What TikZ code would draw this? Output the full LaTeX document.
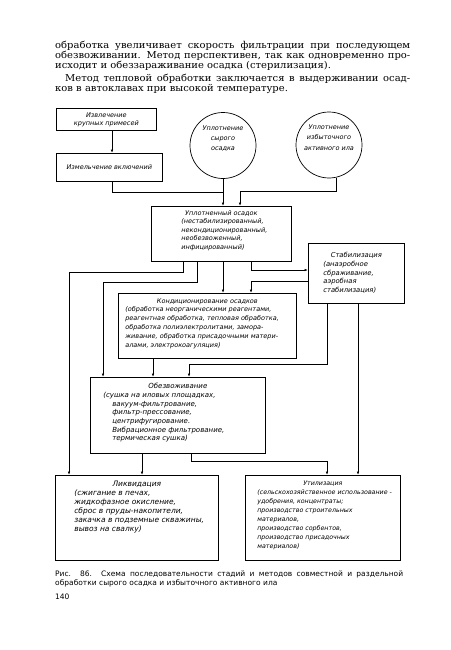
\documentclass[tikz,border=0pt]{standalone}
\usepackage{fontspec}
\setmainfont{DejaVu Serif}[FakeStretch=1.05]
\newfontfamily\handfont{DejaVu Sans}
\newfontfamily\capfont{DejaVu Sans}
\usetikzlibrary{arrows.meta}

\newlength{\du}
\setlength{\du}{1pt}

% frame text: width, height, top gap, left gap, text
\newcommand{\blocktext}[5]{\parbox[c][#2][t]{#1}{\vspace*{#3}\raggedright\leftskip=#4\relax #5}}

\tikzset{
  hand/.style n args={2}{font=\handfont\itshape\fontsize{#1}{#2}\selectfont},
  blok/.style={draw, line width=0.7\du, inner sep=0pt, anchor=north west},
  krug/.style={draw, circle, line width=0.7\du, minimum size=66\du, inner sep=0pt, align=center, text depth=15\du, hand={6.5}{10.3}},
  flow/.style={line width=0.7\du, -{Latex[length=3.5pt,width=2.6pt]}},
  plainline/.style={line width=0.7\du}
}

\begin{document}
\begin{tikzpicture}
\pgftransformxscale{1.000000}
\pgftransformyscale{-1.000000}
\useasboundingbox (0\du,0\du) rectangle (450\du,650\du);
% text of the page
\node[anchor=north west, inner sep=0pt, text width=355\du, align=justify, font=\fontsize{9.5}{10.2}\selectfont] (para) at (55\du,41\du) {обработка увеличивает скорость фильтрации при последующем\linebreak обезвоживании. Метод перспективен, так как одновременно про-\linebreak исходит и обеззараживание осадка (стерилизация).\par\vspace{2.5\du}\hspace*{10\du}Метод тепловой обработки заключается в выдерживании осад-\linebreak ков в автоклавах при высокой температуре.};
% top row
\node[blok, minimum width=100\du, minimum height=22\du, align=center, hand={6.5}{8}] (izvl) at (56\du,108\du) {Извлечение\\крупных примесей};
\node[blok, minimum width=106\du, minimum height=28\du, hand={6.5}{8}] (izm) at (56\du,153\du) {Измельчение включений};
\node[krug] (upl1) at (223\du,145.5\du) {Уплотнение\\сырого\\осадка};
\node[krug] (upl2) at (329\du,145\du) {Уплотнение\\избыточного\\активного ила};
% stages
\node[blok, hand={6.5}{8.5}] (uplos) at (151\du,206\du) {\blocktext{140\du}{55\du}{4\du}{30\du}{\centerline{Уплотненный осадок}(нестабилизированный,\\некондиционированный,\\необезвоженный,\\инфицированный)}};
\node[blok, hand={6.8}{8.7}] (stab) at (308\du,243\du) {\blocktext{96\du}{60\du}{9\du}{15\du}{\centerline{Стабилизация}(анаэробное\\сбраживание,\\аэробная\\стабилизация)}};
\node[blok, hand={6.5}{8.8}] (kond) at (118\du,293\du) {\blocktext{178\du}{65\du}{5\du}{7\du}{\centerline{Кондиционирование осадков}(обработка неорганическими реагентами,\\реагентная обработка, тепловая обработка,\\обработка полиэлектролитами, замора-\\живание, обработка присадочными матери-\\алами, электрокоагуляция)}};
\node[blok, hand={7}{8.7}] (obez) at (90\du,377\du) {\blocktext{175\du}{76\du}{6\du}{22\du}{\centerline{Обезвоживание}\hspace*{-9\du}(сушка на иловых площадках,\\вакуум-фильтрование,\\фильтр-прессование,\\центрифугирование.\\Вибрационное фильтрование,\\термическая сушка)}};
\node[blok, hand={7.5}{9}] (likv) at (55\du,475\du) {\blocktext{163\du}{85\du}{6\du}{19\du}{\centerline{Ликвидация}(сжигание в печах,\\жидкофазное окисление,\\сброс в пруды-накопители,\\закачка в подземные скважины,\\вывоз на свалку)}};
\node[blok, hand={6.3}{8.9}] (util) at (245\du,475\du) {\blocktext{155\du}{85\du}{6\du}{12\du}{\centerline{Утилизация}\mbox{(сельскохозяйственное использование -}\\удобрения, концентраты;\\производство строительных\\материалов,\\производство сорбентов,\\производство присадочных\\материалов)}};
% caption
\node[anchor=north west, inner sep=0pt, text width=348\du, align=justify, font=\capfont\fontsize{7.5}{9}\selectfont] (podpis) at (55\du,571\du) {Рис. 86. Схема последовательности стадий и методов совместной и раздельной\linebreak обработки сырого осадка и избыточного активного ила};
\node[anchor=west, inner sep=0pt, font=\capfont\fontsize{7.5}{9}\selectfont] (stran) at (55\du,597\du) {140};
% junction points
\coordinate (a1) at (112\du,192\du);
\coordinate (a2) at (240\du,191\du);
\coordinate (a3) at (251\du,270\du);
\coordinate (a4) at (251\du,281\du);
\coordinate (a5) at (183\du,272\du);
\coordinate (a6) at (69\du,272\du);
\coordinate (a7) at (197\du,282\du);
\coordinate (a8) at (103\du,282\du);
\coordinate (a9) at (153\du,368\du);
\coordinate (a10) at (327\du,364\du);
\coordinate (a11) at (189\du,364\du);
\coordinate (a12) at (358\du,400\du);
\coordinate (a13) at (142\du,465\du);
\coordinate (a14) at (191\du,461\du);
\coordinate (a15) at (327\du,461\du);
% connectors
\draw[flow] (izvl.south -| a1) -- (izm.north -| a1);
\draw[plainline] (izm.south -| a1) -- (a1) -- (upl1.south |- a1);
\draw[flow] (upl1.south) -- (uplos.north -| upl1.south);
\draw[flow] (upl2.-78) |- (a2) -- (uplos.north -| a2);
\draw[flow] (uplos.south -| a3) |- (stab.west |- a3);
\draw[flow] (stab.west |- a4) -| (kond.north -| a4);
\draw[flow] (uplos.south -| upl1.south) -- (kond.north -| upl1.south);
\draw[flow] (uplos.south -| a5) -- (a5) -- (a6) -- (likv.north -| a6);
\draw[flow] (uplos.south -| a7) -- (a7) -- (a8) -- (obez.north -| a8);
\draw[flow] (kond.south -| a9) -- (obez.north -| a9);
\draw[flow] (stab.south -| a10) -- (a10) -- (a11) -- (obez.north -| a11);
\draw[flow] (stab.south -| a12) -- (util.north -| a12);
\draw[flow] (obez.south -| a13) -- (likv.north -| a13);
\draw[flow] (obez.south -| a14) -- (a14) -- (a15) -- (util.north -| a15);
\end{tikzpicture}
\end{document}
